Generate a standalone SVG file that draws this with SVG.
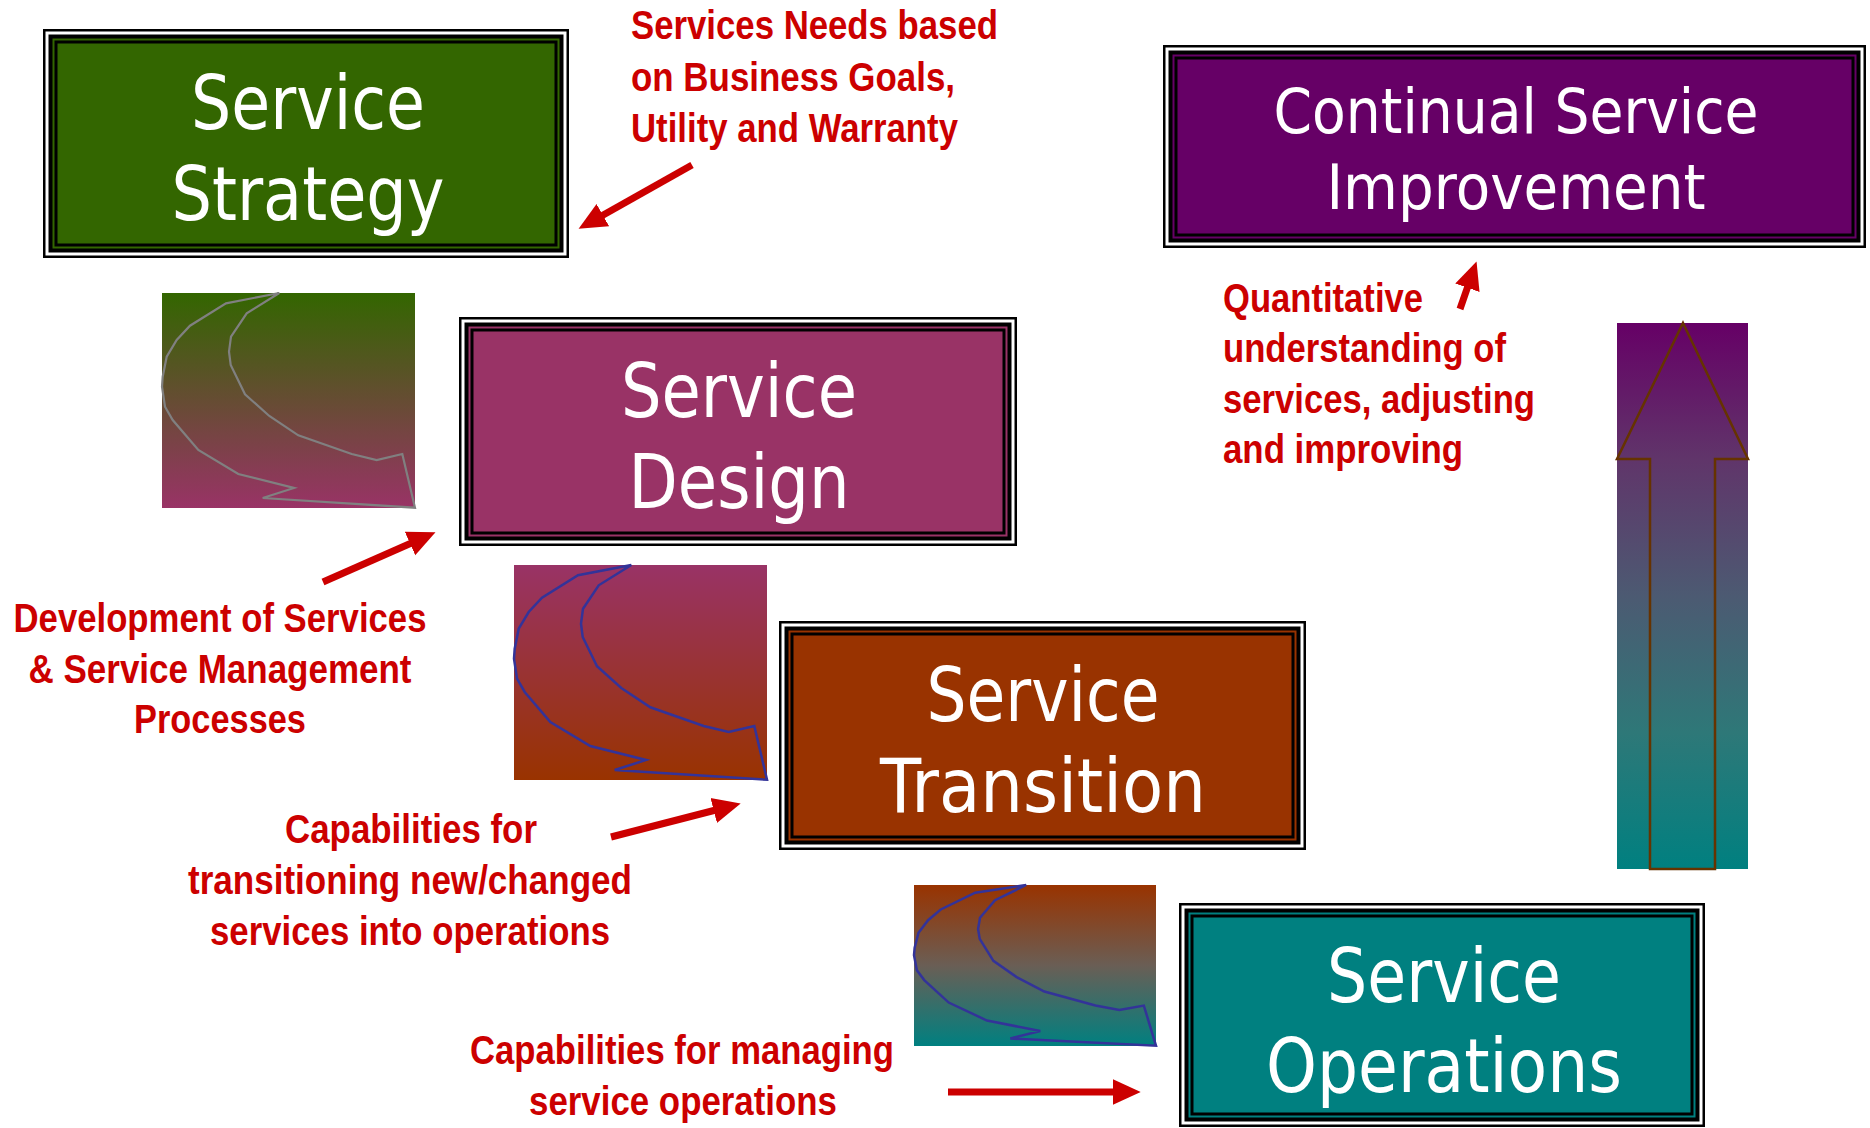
<svg xmlns="http://www.w3.org/2000/svg" xmlns:xlink="http://www.w3.org/1999/xlink" width="1870" height="1128" viewBox="0 0 1870 1128">
  <style>
    .k { fill: #000000; }
    .w { fill: #ffffff; }
    .strategy { fill: #336600; }
    .design { fill: #993366; }
    .transition { fill: #993300; }
    .operations { fill: #008080; }
    .csi { fill: #660066; }
    .title { font-family: "DejaVu Sans", "Liberation Sans", sans-serif; font-size: 75px; fill: #ffffff; text-anchor: middle; }
    .title.small { font-size: 63px; }
    .note { font-family: "Liberation Sans", Arial, sans-serif; font-weight: bold; font-size: 41px; fill: #cc0000; }
    .mid { text-anchor: middle; }
    .pointer { stroke: #cc0000; stroke-width: 7; fill: none; marker-end: url(#head); }
  </style>
  <defs>
    <marker id="head" markerUnits="userSpaceOnUse" markerWidth="30" markerHeight="28" viewBox="0 -13 28 26" refX="2" refY="0" orient="auto">
      <path d="M0,-12 L26,0 L0,12 z" fill="#cc0000"/>
    </marker>
    <linearGradient id="gStrategyDesign" x1="0" y1="0" x2="0" y2="1">
      <stop offset="0" stop-color="#336600"/>
      <stop offset="1" stop-color="#993366"/>
    </linearGradient>
    <linearGradient id="gDesignTransition" x1="0" y1="0" x2="0" y2="1">
      <stop offset="0" stop-color="#993366"/>
      <stop offset="1" stop-color="#993300"/>
    </linearGradient>
    <linearGradient id="gTransitionOperations" x1="0" y1="0" x2="0" y2="1">
      <stop offset="0" stop-color="#993300"/>
      <stop offset="0.5" stop-color="#6a5e55"/>
      <stop offset="1" stop-color="#008080"/>
    </linearGradient>
    <linearGradient id="gImprove" x1="0" y1="0" x2="0" y2="1">
      <stop offset="0" stop-color="#660066"/>
      <stop offset="0.25" stop-color="#60356a"/>
      <stop offset="0.5" stop-color="#4c5a72"/>
      <stop offset="0.75" stop-color="#2e7878"/>
      <stop offset="1" stop-color="#008080"/>
    </linearGradient>
    <!-- bent hand-off arrow, drawn in a 253 x 215 frame -->
    <polygon id="bend" fill="none" stroke-linejoin="miter" vector-effect="non-scaling-stroke"
      points="117.3,0 64,10.3 28,32.7 14.7,47 4.7,63.7 0.7,83.7 0,93.7 3,113.7 10.7,127 36.3,157 76.3,181 132,195 100.7,205 253,214.7 240.3,161 214.7,167 189.7,161 136.3,142.3 107.3,123 83,101.3 68.7,72 67,58.7 69,43.7 84.7,20.3"/>
  </defs>

  <rect x="0" y="0" width="1870" height="1128" fill="#ffffff"/>

  <!-- Service Strategy -->
  <g id="service-strategy">
    <rect class="k" x="43" y="29" width="526" height="229"/>
    <rect class="w" x="45.5" y="31.5" width="521" height="224"/>
    <rect class="k" x="48.5" y="34.5" width="515" height="218"/>
    <rect class="strategy" x="52.5" y="38.5" width="507" height="210"/>
    <rect class="k" x="54.5" y="40.5" width="503" height="206"/>
    <rect class="strategy" x="57.5" y="43.5" width="497" height="200"/>
    <text class="title" x="308" y="129" textLength="234" lengthAdjust="spacingAndGlyphs">Service</text>
    <text class="title" x="308" y="220" textLength="273" lengthAdjust="spacingAndGlyphs">Strategy</text>
  </g>

  <!-- Service Design -->
  <g id="service-design">
    <rect class="k" x="459" y="317" width="558" height="229"/>
    <rect class="w" x="461.5" y="319.5" width="553" height="224"/>
    <rect class="k" x="464.5" y="322.5" width="547" height="218"/>
    <rect class="design" x="468.5" y="326.5" width="539" height="210"/>
    <rect class="k" x="470.5" y="328.5" width="535" height="206"/>
    <rect class="design" x="473.5" y="331.5" width="529" height="200"/>
    <text class="title" x="739" y="417" textLength="236" lengthAdjust="spacingAndGlyphs">Service</text>
    <text class="title" x="739" y="508" textLength="221" lengthAdjust="spacingAndGlyphs">Design</text>
  </g>

  <!-- Service Transition -->
  <g id="service-transition">
    <rect class="k" x="779" y="621" width="527" height="229"/>
    <rect class="w" x="781.5" y="623.5" width="522" height="224"/>
    <rect class="k" x="784.5" y="626.5" width="516" height="218"/>
    <rect class="transition" x="788.5" y="630.5" width="508" height="210"/>
    <rect class="k" x="790.5" y="632.5" width="504" height="206"/>
    <rect class="transition" x="793.5" y="635.5" width="498" height="200"/>
    <text class="title" x="1043" y="721" textLength="233" lengthAdjust="spacingAndGlyphs">Service</text>
    <text class="title" x="1043" y="812" textLength="326" lengthAdjust="spacingAndGlyphs">Transition</text>
  </g>

  <!-- Service Operations -->
  <g id="service-operations">
    <rect class="k" x="1179" y="903" width="526" height="224"/>
    <rect class="w" x="1181.5" y="905.5" width="521" height="219"/>
    <rect class="k" x="1184.5" y="908.5" width="515" height="213"/>
    <rect class="operations" x="1188.5" y="912.5" width="507" height="205"/>
    <rect class="k" x="1190.5" y="914.5" width="503" height="201"/>
    <rect class="operations" x="1193.5" y="917.5" width="497" height="195"/>
    <text class="title" x="1444" y="1002" textLength="234" lengthAdjust="spacingAndGlyphs">Service</text>
    <text class="title" x="1444" y="1092" textLength="356" lengthAdjust="spacingAndGlyphs">Operations</text>
  </g>

  <!-- Continual Service Improvement -->
  <g id="continual-service-improvement">
    <rect class="k" x="1163" y="45" width="703" height="203"/>
    <rect class="w" x="1165.5" y="47.5" width="698" height="198"/>
    <rect class="k" x="1168.5" y="50.5" width="692" height="192"/>
    <rect class="csi" x="1172.5" y="54.5" width="684" height="184"/>
    <rect class="k" x="1174.5" y="56.5" width="680" height="180"/>
    <rect class="csi" x="1177.5" y="59.5" width="674" height="174"/>
    <text class="title small" x="1516" y="133" textLength="485" lengthAdjust="spacingAndGlyphs">Continual Service</text>
    <text class="title small" x="1516" y="209" textLength="379" lengthAdjust="spacingAndGlyphs">Improvement</text>
  </g>

  <!-- bent arrows between the lifecycle stages -->
  <g id="bend-strategy-design">
    <rect x="162" y="293" width="253" height="215" fill="url(#gStrategyDesign)"/>
    <use xlink:href="#bend" href="#bend" transform="translate(162,293)" stroke="#808080" stroke-width="2.2"/>
  </g>
  <g id="bend-design-transition">
    <rect x="514" y="565" width="253" height="215" fill="url(#gDesignTransition)"/>
    <use xlink:href="#bend" href="#bend" transform="translate(514,565)" stroke="#333399" stroke-width="2.5"/>
  </g>
  <g id="bend-transition-operations">
    <rect x="914" y="885" width="242" height="161" fill="url(#gTransitionOperations)"/>
    <use xlink:href="#bend" href="#bend" transform="translate(914,885) scale(0.9565,0.7488)" stroke="#333399" stroke-width="2.5"/>
  </g>

  <!-- upward improvement arrow -->
  <g id="improvement-arrow">
    <rect x="1617" y="323" width="131" height="546" fill="url(#gImprove)"/>
    <polygon points="1683,323 1748,459 1715,459 1715,869 1650,869 1650,459 1617,459" fill="none" stroke="#663300" stroke-width="2.5"/>
  </g>

  <!-- annotations -->
  <g id="note-strategy">
    <text class="note" x="631" y="39" textLength="367" lengthAdjust="spacingAndGlyphs">Services Needs based</text>
    <text class="note" x="631" y="91" textLength="324" lengthAdjust="spacingAndGlyphs">on Business Goals,</text>
    <text class="note" x="631" y="142" textLength="327" lengthAdjust="spacingAndGlyphs">Utility and Warranty</text>
  </g>
  <g id="note-improvement">
    <text class="note" x="1223" y="312" textLength="200" lengthAdjust="spacingAndGlyphs">Quantitative</text>
    <text class="note" x="1223" y="362" textLength="283" lengthAdjust="spacingAndGlyphs">understanding of</text>
    <text class="note" x="1223" y="413" textLength="312" lengthAdjust="spacingAndGlyphs">services, adjusting</text>
    <text class="note" x="1223" y="463" textLength="240" lengthAdjust="spacingAndGlyphs">and improving</text>
  </g>
  <g id="note-design">
    <text class="note mid" x="220" y="632" textLength="413" lengthAdjust="spacingAndGlyphs">Development of Services</text>
    <text class="note mid" x="220" y="683" textLength="383" lengthAdjust="spacingAndGlyphs">&amp; Service Management</text>
    <text class="note mid" x="220" y="733" textLength="172" lengthAdjust="spacingAndGlyphs">Processes</text>
  </g>
  <g id="note-transition">
    <text class="note mid" x="411" y="843" textLength="252" lengthAdjust="spacingAndGlyphs">Capabilities for</text>
    <text class="note mid" x="410" y="894" textLength="444" lengthAdjust="spacingAndGlyphs">transitioning new/changed</text>
    <text class="note mid" x="410" y="945" textLength="400" lengthAdjust="spacingAndGlyphs">services into operations</text>
  </g>
  <g id="note-operations">
    <text class="note mid" x="682" y="1064" textLength="424" lengthAdjust="spacingAndGlyphs">Capabilities for managing</text>
    <text class="note mid" x="683" y="1115" textLength="308" lengthAdjust="spacingAndGlyphs">service operations</text>
  </g>

  <!-- pointers from the notes to their stages -->
  <g id="connectors">
    <line class="pointer" x1="692" y1="165" x2="601" y2="216.2"/>
    <line class="pointer" x1="323" y1="582" x2="412" y2="542.7"/>
    <line class="pointer" x1="611" y1="837" x2="715.8" y2="810"/>
    <line class="pointer" x1="948" y1="1092" x2="1115" y2="1092"/>
    <line class="pointer" x1="1460" y1="309" x2="1468.1" y2="285.7"/>
  </g>
</svg>
